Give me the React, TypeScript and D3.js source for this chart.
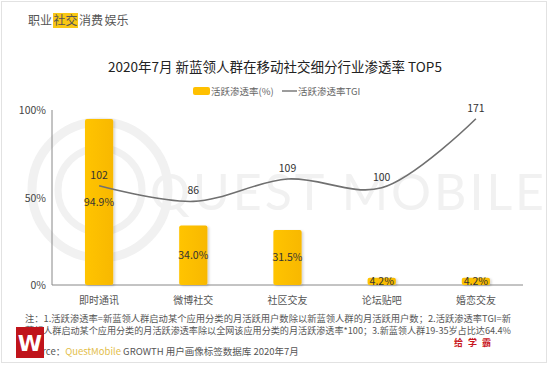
import * as d3 from 'd3';

const categories = ['即时通讯', '微博社交', '社区交友', '论坛贴吧', '婚恋交友'];
const penetration = [94.9, 34.0, 31.5, 4.2, 4.2];
const tgi = [102, 86, 109, 100, 171];
const yTicks = [0, 50, 100];
const tabs = ['职业', '社交', '消费', '娱乐'];

const W = 549;
const H = 365;
const margin = { left: 52, right: 26, top: 110, bottom: 80 };
const FONT = '"Noto Sans CJK SC", "Noto Sans", sans-serif';

export default function App() {
  const x = d3.scaleBand<string>()
    .domain(categories)
    .range([margin.left, W - margin.right])
    .paddingInner(0.7)
    .paddingOuter(0.35);
  const y = d3.scaleLinear().domain([0, 100]).range([H - margin.bottom, margin.top]);
  const y2 = d3.scaleLinear().domain([0, 180]).range([H - margin.bottom, margin.top]);
  const cx = (c: string) => (x(c) ?? 0) + x.bandwidth() / 2;

  const line = d3.line<number>()
    .x((_, i) => cx(categories[i]))
    .y(d => y2(d))
    .curve(d3.curveCatmullRom.alpha(0.5));

  const base = y(0);

  return (
    <svg width={W} height={H} style={{ position: 'absolute', left: 0, top: 0, background: '#fff' }}
      fontFamily={FONT}>
      <defs>
        <linearGradient id="barGrad" x1="0" x2="1" y1="0" y2="0">
          <stop offset="0" stopColor="#FFC400" />
          <stop offset="1" stopColor="#F8B800" />
        </linearGradient>
        <filter id="shadow" x="-20%" y="-20%" width="150%" height="140%">
          <feDropShadow dx="1.5" dy="1" stdDeviation="1" floodColor="#000" floodOpacity="0.18" />
        </filter>
      </defs>
      <rect x={1.5} y={1.5} width={W - 4} height={H - 4} fill="#fff" stroke="#e2e2e2" />

      {/* tabs */}
      <rect x={53} y={13} width={25} height={15} fill="#F9C715" />
      {tabs.map((t, i) => (
        <text key={t} x={28 + i * 25.5} y={25} fontSize={12} fill="#555">{t}</text>
      ))}

      {/* watermark */}
      <g fill="none" stroke="#f1f1f1" strokeWidth={9}>
        <circle cx={100} cy={190} r={68} />
        <circle cx={100} cy={190} r={42} strokeWidth={7} />
      </g>
      <text x={150} y={210} fontSize={50} fill="#f1f1f1" fontFamily="Lato, sans-serif" letterSpacing={3}>
        QUEST MOBILE
      </text>

      {/* title */}
      <text x={275} y={72} textAnchor="middle" fontSize={13.5} fill="#222">
        2020年7月 新蓝领人群在移动社交细分行业渗透率 TOP5
      </text>

      {/* legend */}
      <rect x={193} y={87} width={17} height={8} rx={2} fill="#FFC000" />
      <text x={211} y={94.5} fontSize={9.5} fill="#666">活跃渗透率(%)</text>
      <line x1={282} x2={297} y1={91} y2={91} stroke="#666" strokeWidth={1.3} />
      <text x={298} y={94.5} fontSize={9.5} fill="#666">活跃渗透率TGI</text>

      {/* axes */}
      <line x1={margin.left} x2={margin.left} y1={margin.top} y2={base} stroke="#888" />
      <line x1={margin.left} x2={W - margin.right} y1={base} y2={base} stroke="#888" />
      {yTicks.map(t => (
        <text key={t} x={46} y={y(t) + 4} textAnchor="end" fontSize={10.5} fill="#444">{t}%</text>
      ))}

      {/* bars */}
      {categories.map((c, i) => (
        <g key={c}>
          <rect x={x(c)} y={y(penetration[i])} width={x.bandwidth()} height={base - y(penetration[i])}
            rx={2} fill="url(#barGrad)" filter="url(#shadow)" />
          <text x={cx(c)} y={(y(penetration[i]) + base) / 2 + 4} textAnchor="middle" fontSize={10.5} fill="#333">
            {penetration[i].toFixed(1)}%
          </text>
          <text x={cx(c)} y={base + 19} textAnchor="middle" fontSize={10} fill="#555">{c}</text>
        </g>
      ))}

      {/* TGI line */}
      <path d={line(tgi) ?? ''} fill="none" stroke="#707070" strokeWidth={1.6} />
      {tgi.map((v, i) => (
        <text key={i} x={cx(categories[i])} y={y2(v) - 7} textAnchor="middle" fontSize={10.5} fill="#333">{v}</text>
      ))}

      {/* notes */}
      <text x={25} y={322} fontSize={9} fill="#555" textLength={486} lengthAdjust="spacingAndGlyphs">
        注：1.活跃渗透率=新蓝领人群启动某个应用分类的月活跃用户数除以新蓝领人群的月活跃用户数；2.活跃渗透率TGI=新
      </text>
      <text x={25} y={334} fontSize={9} fill="#555" textLength={486} lengthAdjust="spacingAndGlyphs">
        蓝领人群启动某个应用分类的月活跃渗透率除以全网该应用分类的月活跃渗透率*100；3.新蓝领人群19-35岁占比达64.4%
      </text>
      <text x={25} y={355} fontSize={9.5} fill="#555">
        Source：<tspan fill="#E3BE4A">QuestMobile</tspan> GROWTH 用户画像标签数据库 2020年7月
      </text>
      <text x={454} y={346} fontSize={9} fontWeight="bold" fill="#C8161D" letterSpacing={5}>给学霸</text>

      {/* logo */}
      <rect x={16} y={327} width={28} height={31} fill="#C0141B" />
      <text x={30} y={351} textAnchor="middle" fontSize={22} fontWeight="bold" fill="#fff"
        fontFamily="DejaVu Sans, sans-serif">W</text>
    </svg>
  );
}
